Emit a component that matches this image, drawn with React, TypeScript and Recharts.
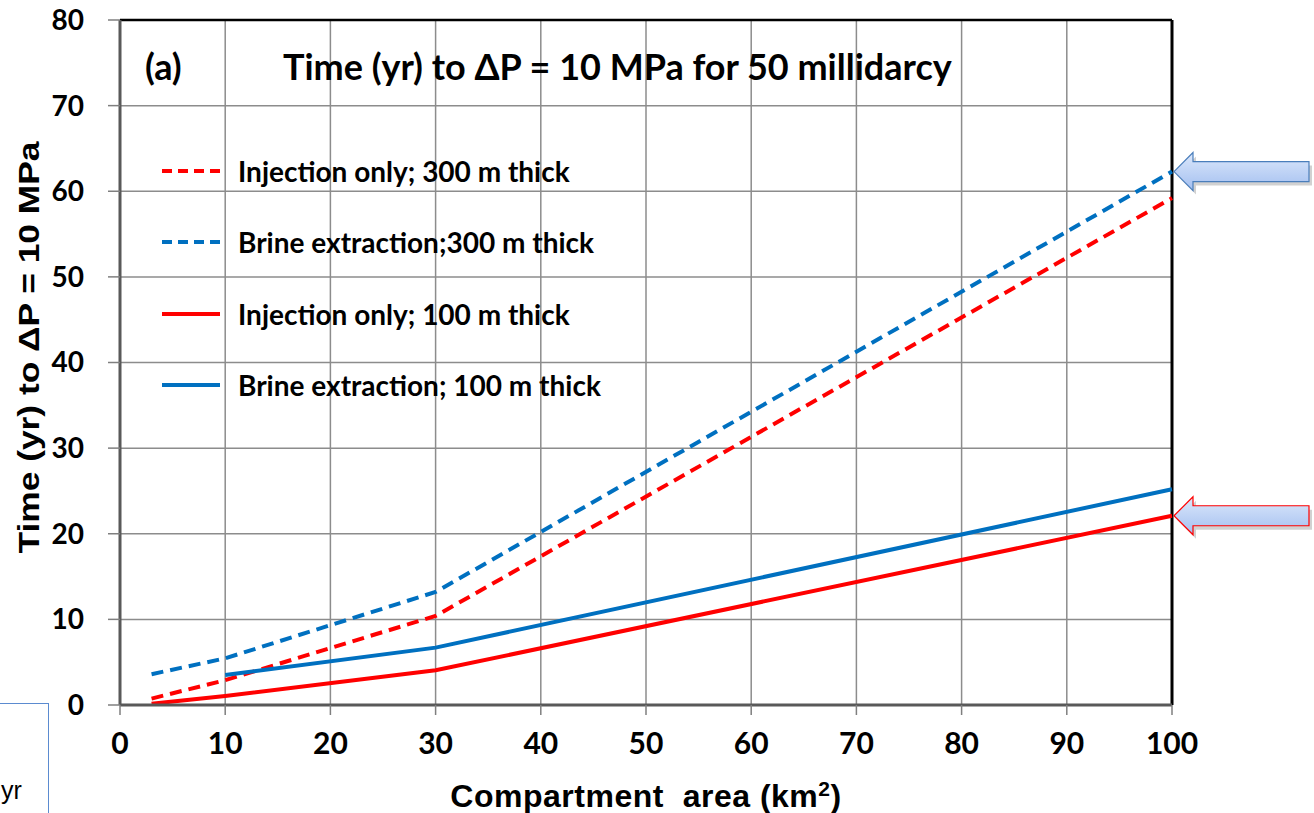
import React from 'react';
import { LineChart, Line, XAxis, YAxis, CartesianGrid, ReferenceLine, ReferenceDot } from 'recharts';

// compartment area (km2) and time (yr) to reach dP = 10 MPa
const areaKm2 = [3, 10, 30, 100];
const injection300 = [0.75, 2.9, 10.4, 59.2];
const brine300 = [3.6, 5.45, 13.2, 62.3];
const injection100 = [0.15, 1.05, 4.05, 22.1];
const brine100 = [null, 3.5, 6.7, 25.2];

const xTicks = [0, 10, 20, 30, 40, 50, 60, 70, 80, 90, 100];
const yTicks = [0, 10, 20, 30, 40, 50, 60, 70, 80];

const series = [
  { key: 'inj300', name: 'Injection only; 300 m thick', color: '#FF0000', dashed: true },
  { key: 'brine300', name: 'Brine extraction;300 m thick', color: '#0070C0', dashed: true },
  { key: 'inj100', name: 'Injection only; 100 m thick', color: '#FF0000', dashed: false },
  { key: 'brine100', name: 'Brine extraction; 100 m thick', color: '#0070C0', dashed: false },
];

const data = areaKm2.map((a, i) => ({
  area: a,
  inj300: injection300[i],
  brine300: brine300[i],
  inj100: injection100[i],
  brine100: brine100[i],
}));

const calibri = "Lato, 'Open Sans', sans-serif";
const xTickFont = { fontFamily: calibri, fontWeight: 700, fontSize: 30, fill: '#000' };
const yTickFont = { fontFamily: calibri, fontWeight: 700, fontSize: 28, fill: '#000' };

const LegendBox = () => (
  <div style={{ position: 'absolute', left: 161, top: 135, fontFamily: calibri, fontWeight: 700, fontSize: 28, color: '#000' }}>
    {series.map((s) => (
      <div key={s.key} style={{ display: 'flex', alignItems: 'center', height: 71.5, whiteSpace: 'nowrap' }}>
        <svg width={60} height={10} style={{ marginRight: 17 }}>
          <line x1={1} y1={5} x2={59} y2={5} stroke={s.color} strokeWidth={4}
            strokeDasharray={s.dashed ? '10 6' : undefined} />
        </svg>
        <span>{s.name}</span>
      </div>
    ))}
  </div>
);

const Arrow = (props: any) => {
  const { cx, cy, outline, id } = props;
  const x = cx + 2;
  const pts = [
    [x, cy],
    [x + 19, cy - 19],
    [x + 19, cy - 10],
    [x + 135, cy - 10],
    [x + 135, cy + 10],
    [x + 19, cy + 10],
    [x + 19, cy + 19],
  ].map((p) => p.join(',')).join(' ');
  return (
    <g>
      <defs>
        <linearGradient id={id} x1="0" y1="0" x2="0" y2="1">
          <stop offset="0" stopColor="#dce8fb" />
          <stop offset="1" stopColor="#a3bff0" />
        </linearGradient>
      </defs>
      <polygon points={pts} fill="#000" opacity={0.18} transform="translate(3,4)" />
      <polygon points={pts} fill={`url(#${id})`} stroke={outline} strokeWidth={1.2} />
    </g>
  );
};

const YLabel = (props: any) => {
  const { viewBox } = props;
  const cx = 29;
  const cy = viewBox.y + viewBox.height / 2 - 15;
  return (
    <text x={cx} y={cy} transform={`rotate(-90 ${cx} ${cy})`} textAnchor="middle" dominantBaseline="central"
      fontFamily="'Liberation Sans', Arial, sans-serif" fontWeight={700} fontSize={29} fill="#000"
      textLength={412} lengthAdjust="spacingAndGlyphs">
      Time (yr) to ΔP = 10 MPa
    </text>
  );
};

const XLabel = (props: any) => {
  const { viewBox } = props;
  const cx = viewBox.x + viewBox.width / 2;
  return (
    <text x={cx} y={807} textAnchor="middle" fontFamily="'Liberation Sans', Arial, sans-serif"
      fontWeight={700} fontSize={32} fill="#000" letterSpacing={0.5} xmlSpace="preserve">
      Compartment  area (km<tspan fontSize={21} dy={-11}>2</tspan><tspan dy={11}>)</tspan>
    </text>
  );
};

export default function App() {
  return (
    <div style={{ position: 'absolute', left: 0, top: 0, width: 1314, height: 813, background: '#fff', overflow: 'hidden' }}>
      <LineChart width={1314} height={813} data={data} margin={{ top: 20, right: 142, bottom: 0, left: 0 }}>
        <CartesianGrid stroke="#8c8c8c" strokeWidth={1.5} horizontalValues={yTicks} verticalValues={xTicks} />
        <XAxis dataKey="area" type="number" domain={[0, 100]} ticks={xTicks} height={108}
          tick={xTickFont} tickSize={10} tickMargin={18} stroke="#595959" strokeWidth={3}
          tickLine={{ stroke: '#7f7f7f', strokeWidth: 1.5 }} label={<XLabel />} />
        <YAxis type="number" domain={[0, 80]} ticks={yTicks} width={120} tick={yTickFont}
          tickSize={12} tickMargin={24} stroke="#595959" strokeWidth={3}
          tickLine={{ stroke: '#7f7f7f', strokeWidth: 1.5 }} label={<YLabel />} />
        <ReferenceLine y={80} stroke="#000" strokeWidth={2.5} />
        <ReferenceLine x={100} stroke="#000" strokeWidth={3} />
        {series.map((s) => (
          <Line key={s.key} dataKey={s.key} name={s.name} type="linear" stroke={s.color}
            strokeWidth={4} strokeDasharray={s.dashed ? '12 7' : undefined} dot={false}
            activeDot={false} isAnimationActive={false} />
        ))}
        <ReferenceDot x={100} y={brine300[3]} ifOverflow="visible"
          shape={(p: any) => <Arrow {...p} outline="#4a7ebb" id="arrBlue" />} />
        <ReferenceDot x={100} y={injection100[3]} ifOverflow="visible"
          shape={(p: any) => <Arrow {...p} outline="#ff0000" id="arrRed" />} />
      </LineChart>
      <LegendBox />
      <div style={{ position: 'absolute', left: 145, top: 44, fontFamily: calibri, fontWeight: 700, fontSize: 36 }}>(a)</div>
      <div style={{ position: 'absolute', left: 283, top: 44, fontFamily: calibri, fontWeight: 700, fontSize: 36, whiteSpace: 'nowrap' }}>
        Time (yr) to ΔP = 10 MPa for 50 millidarcy
      </div>
      <div style={{ position: 'absolute', left: -20, top: 703, width: 67, height: 130, border: '1.5px solid #5b8bd0' }} />
      <div style={{ position: 'absolute', left: 1, top: 776, fontFamily: "'Liberation Sans', Arial, sans-serif", fontSize: 25 }}>yr</div>
    </div>
  );
}
